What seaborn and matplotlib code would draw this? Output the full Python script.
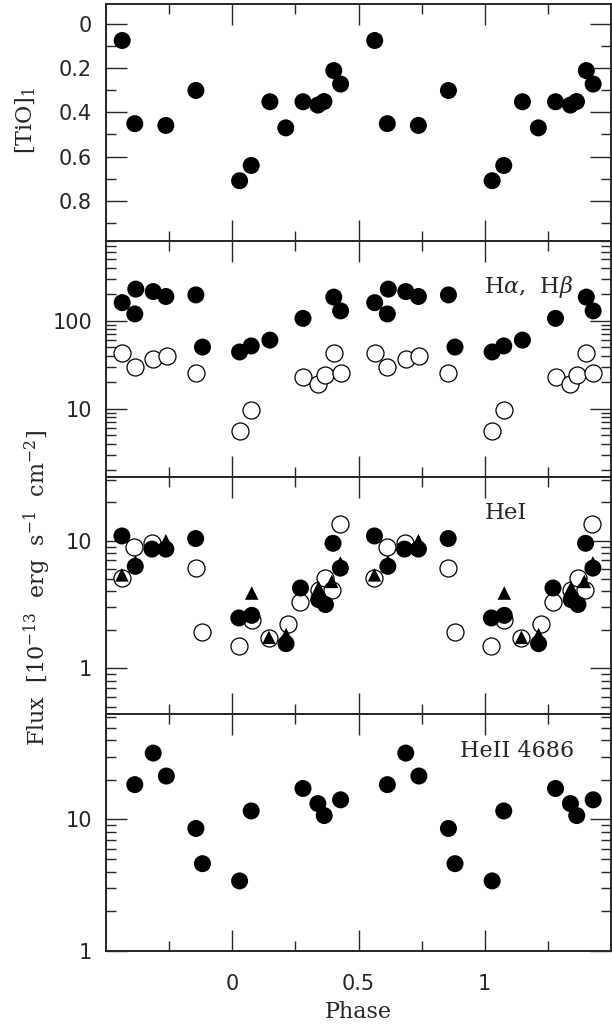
import numpy as np
import pandas as pd
import matplotlib
matplotlib.use("Agg")
import matplotlib.pyplot as plt
import seaborn as sns
from matplotlib.ticker import FixedLocator, LogLocator, MultipleLocator, NullFormatter

# orbital phase of each observation (folded into 0..1) and measured values
tio_phase = [0.564, 0.614, 0.737, 0.856, 0.029, 0.075, 0.149, 0.212, 0.280, 0.339, 0.363, 0.402, 0.429]
tio_index = [0.075, 0.451, 0.459, 0.301, 0.709, 0.640, 0.352, 0.470, 0.352, 0.367, 0.351, 0.211, 0.272]

ha_phase = [0.564, 0.618, 0.614, 0.687, 0.737, 0.856, 0.882, 0.029, 0.075, 0.149, 0.280, 0.402, 0.429]
ha_flux = [160, 228, 119, 214, 188, 196, 50, 44, 51.5, 60, 106, 185, 129]

hb_phase = [0.564, 0.614, 0.687, 0.740, 0.856, 0.029, 0.075, 0.280, 0.339, 0.367, 0.402, 0.429]
hb_flux = [43, 30, 36.5, 40, 25.5, 5.5, 9.6, 23, 18.8, 24, 42.5, 25.5]

hei_a_phase = [0.563, 0.616, 0.682, 0.737, 0.855, 0.026, 0.077, 0.213, 0.270, 0.342, 0.369, 0.399, 0.428]
hei_a_flux = [10.9, 6.3, 8.6, 8.6, 10.4, 2.48, 2.60, 1.56, 4.26, 3.45, 3.16, 9.55, 6.1]

hei_b_phase = [0.563, 0.612, 0.684, 0.855, 0.882, 0.026, 0.077, 0.145, 0.221, 0.270, 0.342, 0.369, 0.395, 0.425]
hei_b_flux = [5.1, 9.0, 9.6, 6.1, 1.92, 1.49, 2.41, 1.73, 2.23, 3.3, 4.13, 5.1, 4.13, 13.5]

hei_c_phase = [0.563, 0.616, 0.737, 0.077, 0.145, 0.213, 0.342, 0.394, 0.428]
hei_c_flux = [5.4, 6.85, 10.0, 3.89, 1.75, 1.84, 4.3, 4.8, 6.7]

heii_phase = [0.614, 0.687, 0.739, 0.856, 0.882, 0.029, 0.075, 0.280, 0.339, 0.364, 0.429]
heii_flux = [18.4, 32, 21.4, 8.53, 4.6, 3.4, 11.6, 17.2, 13.2, 10.7, 14.1]


def folded(phase, value):
    # repeat each point one cycle earlier and later, keep the -0.5..1.5 window
    df = pd.DataFrame({"phase": phase, "value": value})
    df = pd.concat([df.assign(phase=df.phase + k) for k in (-1, 0, 1)])
    return df[(df.phase > -0.5) & (df.phase < 1.5)]


sns.set_style("ticks")
plt.rcParams["font.family"] = ["DejaVu Sans"]
plt.rcParams["mathtext.fontset"] = "dejavuserif"
serif = ["DejaVu Serif"]

fig = plt.figure(figsize=(6.12, 10.25), dpi=100)
axes = fig.subplots(4, 1, sharex=True)
fig.subplots_adjust(left=0.1732, right=0.9985, top=0.9961, bottom=0.0725, hspace=0)

filled = dict(marker="o", s=150, color="black", edgecolor="none", legend=False, zorder=4)
hollow = dict(marker="o", s=150, color="white", edgecolor="black", linewidth=0.9, legend=False, zorder=2)
tri = dict(marker="^", s=95, color="black", edgecolor="none", legend=False, zorder=3)

ax = axes[0]
sns.scatterplot(data=folded(tio_phase, tio_index), x="phase", y="value", ax=ax, **filled)
ax.set_ylim(0.98, -0.09)
ax.set_yticks([0, 0.2, 0.4, 0.6, 0.8], ["0", "0.2", "0.4", "0.6", "0.8"])
ax.yaxis.set_minor_locator(MultipleLocator(0.1))

ax = axes[1]
sns.scatterplot(data=folded(hb_phase, hb_flux), x="phase", y="value", ax=ax, **hollow)
sns.scatterplot(data=folded(ha_phase, ha_flux), x="phase", y="value", ax=ax, **filled)
ax.set_yscale("log")
ax.set_ylim(1.65, 811)
ax.text(0.749, 0.805, r"H$\alpha$,  H$\beta$", transform=ax.transAxes, ha="left", va="center",
        fontsize=16, family=serif)

ax = axes[2]
sns.scatterplot(data=folded(hei_b_phase, hei_b_flux), x="phase", y="value", ax=ax, **hollow)
sns.scatterplot(data=folded(hei_c_phase, hei_c_flux), x="phase", y="value", ax=ax, **tri)
sns.scatterplot(data=folded(hei_a_phase, hei_a_flux), x="phase", y="value", ax=ax, **filled)
ax.set_yscale("log")
ax.set_ylim(0.438, 31.4)
ax.text(0.749, 0.85, "HeI", transform=ax.transAxes, ha="left", va="center",
        fontsize=16.5, family=serif)

ax = axes[3]
sns.scatterplot(data=folded(heii_phase, heii_flux), x="phase", y="value", ax=ax, **filled)
ax.set_yscale("log")
ax.set_ylim(1, 63.5)
ax.text(0.7015, 0.844, "HeII 4686", transform=ax.transAxes, ha="left", va="center",
        fontsize=16, family=serif)

log_ticks = {1: [10, 100], 2: [1, 10], 3: [1, 10]}
for i, ax in enumerate(axes):
    if i in log_ticks:
        t = log_ticks[i]
        ax.yaxis.set_major_locator(FixedLocator(t))
        ax.set_yticklabels([str(v) for v in t])
        ax.yaxis.set_minor_locator(LogLocator(base=10, subs=np.arange(2, 10)))
        ax.yaxis.set_minor_formatter(NullFormatter())
    ax.set_xlim(-0.5, 1.5)
    ax.set_xlabel("")
    ax.set_ylabel("")
    ax.tick_params(which="both", direction="in", top=True, right=True, width=1, labelsize=15)
    ax.tick_params(which="major", length=15)
    ax.tick_params(which="minor", length=7)
    ax.tick_params(axis="y", pad=10)
    for sp in ax.spines.values():
        sp.set_linewidth(1.4)

axes[3].set_xticks([0, 0.5, 1], ["0", "0.5", "1"])
axes[3].xaxis.set_minor_locator(FixedLocator([-0.25, 0.25, 0.75, 1.25]))
axes[3].tick_params(axis="x", pad=17)
axes[3].set_xlabel("Phase", fontsize=16, family=serif, labelpad=5)

fig.text(26 / 612, 1 - 120 / 1025, r"[TiO]$_1$", rotation=90, ha="center", va="center",
         fontsize=16, family=serif)
fig.text(37 / 612, 1 - 588 / 1025, r"Flux  [10$^{-13}$  erg  s$^{-1}$  cm$^{-2}$]", rotation=90,
         ha="center", va="center", fontsize=16, family=serif)

fig.savefig("out.png", dpi=100)
